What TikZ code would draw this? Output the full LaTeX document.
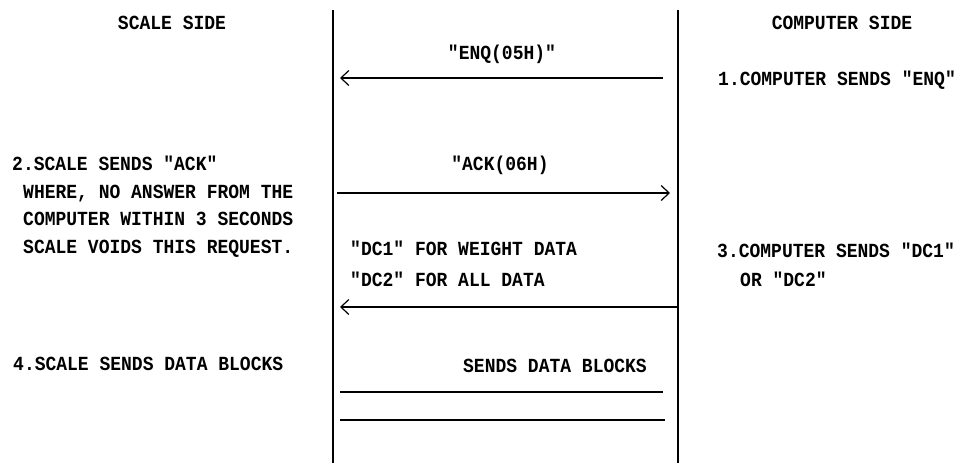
\documentclass[tikz,border=0pt]{standalone}
\usepackage{fontspec}
\newfontfamily\protofont[FakeStretch=0.9]{Liberation Mono}
\usetikzlibrary{arrows.meta}

\begin{document}
\begin{tikzpicture}[
  x=1pt,y=-1pt,
  lbl/.style={font=\protofont\bfseries\fontsize{20}{24}\selectfont,inner sep=0pt,anchor=base},
  txt/.style={lbl,anchor=base west},
  lifeline/.style={line width=1.6pt},
  msg/.style={line width=1.2pt,-{Straight Barb[length=8pt,width=15pt,line width=1.2pt]}},
  rule/.style={line width=1.2pt}
]
\useasboundingbox (0,0) rectangle (962,463);
\coordinate (scaletop) at (333,10);
\coordinate (scalebot) at (333,463);
\coordinate (comptop) at (678,10);
\coordinate (compbot) at (678,463);
\draw[lifeline] (scaletop)--(scalebot);
\draw[lifeline] (comptop)--(compbot);
\node[lbl] (scaleside) at (172,29) {SCALE SIDE};
\node[lbl] (compside) at (842,29) {COMPUTER SIDE};
\node[lbl] (enq) at (502,59) {"ENQ(05H)"};
\coordinate (enqfrom) at (663,78);
\coordinate (enqto) at (340,78);
\draw[msg] (enqfrom)--(enqto);
\node[txt] (step1) at (718,85) {1.COMPUTER SENDS "ENQ"};
\node[lbl] (ack) at (500,170) {"ACK(06H)};
\coordinate (ackfrom) at (337,193);
\coordinate (ackto) at (670,193);
\draw[msg] (ackfrom)--(ackto);
\node[txt] (step2) at (12,170) {2.SCALE SENDS "ACK"};
\node[txt] (note2a) at (23,198) {WHERE, NO ANSWER FROM THE};
\node[txt] (note2b) at (23,225) {COMPUTER WITHIN 3 SECONDS};
\node[txt] (note2c) at (23,253) {SCALE VOIDS THIS REQUEST.};
\node[txt] (dcone) at (350,255) {"DC1" FOR WEIGHT DATA};
\node[txt] (dctwo) at (350,286) {"DC2" FOR ALL DATA};
\node[txt] (step3) at (717,257) {3.COMPUTER SENDS "DC1"};
\node[txt] (step3b) at (740,286) {OR "DC2"};
\coordinate (dcfrom) at (678,307);
\coordinate (dcto) at (340,307);
\draw[msg] (dcfrom)--(dcto);
\node[txt] (step4) at (13,370) {4.SCALE SENDS DATA BLOCKS};
\node[lbl] (blocks) at (555,372) {SENDS DATA BLOCKS};
\coordinate (blkonea) at (340,392);
\coordinate (blkoneb) at (663,392);
\coordinate (blktwoa) at (340,420);
\coordinate (blktwob) at (665,420);
\draw[rule] (blkonea)--(blkoneb);
\draw[rule] (blktwoa)--(blktwob);
\end{tikzpicture}
\end{document}
